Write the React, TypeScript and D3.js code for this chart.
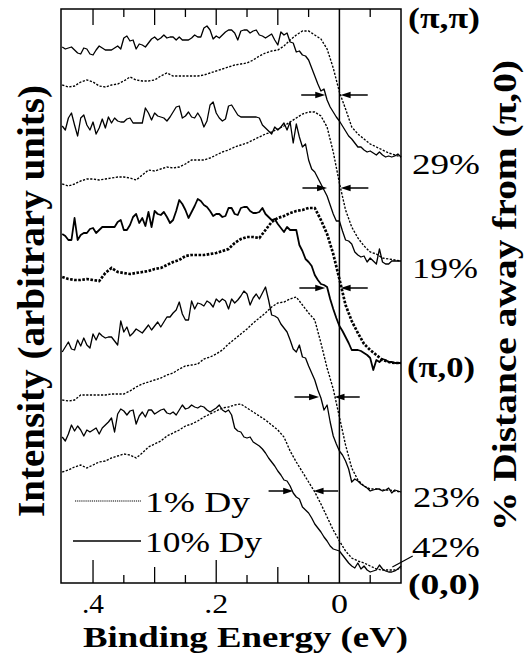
import React from 'react';
import * as d3 from 'd3';

const W = 525;
const H = 661;

// Binding-energy sampling (eV) of the spectra
const E_FINE = d3.range(111).map((j) => +(0.45 - 0.005 * j).toFixed(3));
const E_COARSE = d3.range(56).map((k) => +(0.45 - 0.01 * k).toFixed(2));

// 10% Dy spectra (solid), arbitrary units incl. vertical offsets
const S1 = [536,534,535,536,533,530,529,535,534,529, 528,533,537,535,533,533,533,535,537,534, 545,547,542,543,534,539,538,536,540,544, 546,543,545,548,545,546,546,543,546,543, 543,543,545,548,546,546,555,557,553,544, 547,545,548,551,553,553,550,543,552,553, 553,550,552,553,548,547,545,547,549,543, 538,551,548,550,541,540,531,532,528,527, 523,515,507,499,492,494,483,476,471,466, 462,457,452,447,444,440,436,436,433,431, 432,430,428,431,428,426,427,426,427,429, 426];
const S2 = [457,453,465,470,458,447,465,468,458,453, 461,449,455,464,455,466,460,465,462,461, 461,464,465,460,460,460,460,475,470,463, 470,467,466,465,462,466,471,476,477,465, 467,471,466,465,470,465,456,462,478,481, 470,465,462,464,477,478,473,468,466,466, 466,466,466,466,465,458,455,452,449,456, 453,456,460,453,461,440,459,446,436,439, 423,414,411,405,399,393,387,378,369,362, 362,352,343,342,339,331,328,326,327,321, 325,322,319,334,321,319,319,322,322,322, 322];
const S3 = [349,347,343,343,365,343,348,350,350,354, 355,350,353,356,356,356,356,356,361,363, 353,353,358,366,369,360,365,357,371,356, 372,369,368,371,366,360,363,372,383,379, 373,365,371,377,384,382,378,376,372,367, 369,369,366,367,375,375,369,368,375,376, 376,372,370,370,371,375,369,366,363,364, 359,355,351,356,353,353,353,338,332,324, 321,317,308,303,299,298,296,284,274,265, 257,252,246,240,233,233,233,232,230,228, 225,213,223,221,224,223,221,221,220,220, 220];
const S4 = [231,236,241,234,233,243,237,245,238,235, 249,243,250,247,245,246,246,242,238,262, 251,256,247,250,254,252,250,254,258,253, 257,261,256,261,266,266,270,273,281,269, 263,263,282,274,280,279,277,282,280,276, 284,281,284,282,274,284,280,283,287,292, 289,278,285,289,284,290,296,283,268,267, 265,259,255,251,243,234,231,238,226,225, 217,210,203,193,185,173,178,161,147,139, 132,128,122,114,101,104,102,99,97,95, 92,93,94,94,92,93,95,90,93,92, 91];
const S5 = [146,142,149,158,152,157,153,147,153,151, 153,155,149,155,158,161,165,151,169,174, 172,168,172,173,159,167,171,166,173,173, 169,171,173,174,170,169,171,168,173,178, 174,175,178,176,175,177,176,173,171,173, 175,178,173,171,173,168,155,152,151,146, 145,146,141,139,137,134,130,125,121,117, 112,108,103,102,97,90,86,84,76,73, 70,65,59,55,51,46,42,37,34,33, 32,28,24,20,17,15,20,14,17,13, 11,12,13,18,14,12,11,11,12,14, 17];

// 1% Dy spectra (dotted)
const D1 = [498,496,497,501,503,501,497,496,498,499, 502,506,503,502,502,503,507,510,507,507, 507,507,507,508,510,512,514,516,518,519, 520,523,527,530,532,533,537,543,548,552, 552,548,544,534,515,491,474,456,449,444, 439,436,433,430,428,426];
const D2 = [399,397,399,402,404,404,403,404,405,406, 406,405,403,408,413,412,414,416,415,416, 419,423,423,423,425,428,431,433,436,438, 440,443,446,449,451,454,457,461,465,469, 471,471,467,456,431,400,373,356,345,337, 331,329,325,324,323,322];
const D3 = [306,304,303,303,304,303,302,310,315,311, 310,309,310,311,312,314,315,318,321,323, 327,328,328,328,329,330,332,334,340,344, 346,346,345,353,361,365,367,370,372,373, 375,375,363,349,329,304,278,262,250,239, 233,228,223,221,220,220];
const D4 = [183,182,183,188,188,188,188,188,189,189, 189,192,196,199,201,203,205,208,210,214, 217,218,219,224,226,229,233,239,244,249, 254,260,265,270,276,280,281,284,286,278, 270,263,240,215,194,166,138,115,103,97, 94,94,93,93,92,91];
const D5 = [111,113,116,118,115,118,121,122,125,127, 129,128,125,130,136,139,142,147,150,153, 157,159,162,166,169,172,175,176,178,179, 175,171,167,163,158,153,146,132,121,111, 101,91,79,66,53,42,32,25,22,20, 17,14,13,13,13,15];

// leading-edge midpoint arrows
const ARROW_LEVEL = [488, 395, 295, 186, 92];
const ARROW_L_TAIL = [0.062, 0.06, 0.065, 0.073, 0.115];
const ARROW_L_TIP = [0.023, 0.02, 0.023, 0.033, 0.075];
const ARROW_R_TIP = [-0.002, -0.002, -0.002, 0.008, 0.042];
const ARROW_R_TAIL = [-0.046, -0.047, -0.046, -0.033, 0.002];

const X_TICKS_LABELED = [0.4, 0.2, 0];
const X_TICK_TEXT = ['.4', '.2', '0'];
const X_MINOR = [0.4, 0.35, 0.3, 0.25, 0.2, 0.15, 0.1, 0.05, -0.05];

const RIGHT_LABELS = ['(π,π)', '29%', '19%', '(π,0)', '23%', '42%', '(0,0)'];
const RIGHT_BOLD = [true, false, false, true, false, false, true];
const LEGEND = ['1% Dy', '10% Dy'];

const FONT = "'Liberation Serif', 'Times New Roman', Times, serif";

export default function App() {
  const x = d3.scaleLinear().domain([0.452, -0.1]).range([61, 401]);
  const y = d3.scaleLinear().domain([0, 574]).range([583, 9]);

  const lineFine = d3
    .line<number>()
    .x((_, i) => x(E_FINE[i]))
    .y((d) => y(d));
  const lineCoarse = d3
    .line<number>()
    .x((_, i) => x(E_COARSE[i]))
    .y((d) => y(d));

  const solids = [S1, S2, S3, S4, S5];
  const dotted = [D1, D2, D3, D4, D5];

  const labelPos = [
    { x: 408, y: 28, w: 72 },
    { x: 412, y: 174, w: 68 },
    { x: 412, y: 278, w: 66 },
    { x: 407, y: 377, w: 68 },
    { x: 413, y: 507, w: 67 },
    { x: 412, y: 557, w: 68 },
    { x: 408, y: 594, w: 72 },
  ];
  const tickW = [22, 24, 17];

  const arrowHead = (tx: number, ty: number, dir: number) => {
    const L = 10;
    const hw = 3.2;
    return `M${tx},${ty} L${tx - dir * L},${ty - hw} L${tx - dir * L},${ty + hw} Z`;
  };

  const ts = { fontFamily: FONT } as React.CSSProperties;

  return (
    <svg
      width={W}
      height={H}
      style={{ position: 'absolute', left: 0, top: 0, background: '#fff', fontFamily: FONT }}
    >
      <rect x={0} y={0} width={W} height={H} fill="#fff" />
      {/* frame */}
      <rect x={61} y={9} width={340} height={574} fill="none" stroke="#000" strokeWidth={1.5} />
      {/* Fermi level line */}
      <line x1={x(0)} x2={x(0)} y1={9} y2={583} stroke="#000" strokeWidth={1.5} />
      {/* ticks */}
      {X_MINOR.map((t, i) => {
        const r10 = Math.round(t * 100) % 10 === 0;
        const big = Math.abs(t - 0.4) < 1e-6 || Math.abs(t - 0.2) < 1e-6;
        const lenB = big ? 23 : r10 ? 16 : 8;
        const lenT = r10 ? 16 : 8;
        return (
          <g key={i}>
            <line x1={x(t)} x2={x(t)} y1={583} y2={583 - lenB} stroke="#000" strokeWidth={1.3} />
            <line x1={x(t)} x2={x(t)} y1={9} y2={9 + lenT} stroke="#000" strokeWidth={1.3} />
          </g>
        );
      })}
      {X_TICKS_LABELED.map((t, i) => (
        <text
          key={i}
          x={x(t) - tickW[i] / 2}
          y={613}
          fontSize={28}
          textLength={tickW[i]}
          lengthAdjust="spacingAndGlyphs"
          style={ts}
        >
          {X_TICK_TEXT[i]}
        </text>
      ))}
      {/* spectra */}
      {dotted.map((d, i) => (
        <path
          key={'d' + i}
          d={lineCoarse(d) || ''}
          fill="none"
          stroke="#000"
          strokeWidth={i === 2 ? 2.7 : 1.35}
          strokeDasharray={i === 2 ? '2.6,1.5' : '2.2,1.5'}
        />
      ))}
      {solids.map((s, i) => (
        <path
          key={'s' + i}
          d={lineFine(s) || ''}
          fill="none"
          stroke="#000"
          strokeWidth={i === 2 ? 1.8 : 1.3}
          strokeLinejoin="round"
        />
      ))}
      {/* arrows */}
      {ARROW_LEVEL.map((lv, i) => {
        const yy = y(lv);
        return (
          <g key={'a' + i}>
            <line x1={x(ARROW_L_TAIL[i])} x2={x(ARROW_L_TIP[i]) - 4} y1={yy} y2={yy} stroke="#000" strokeWidth={1.5} />
            <path d={arrowHead(x(ARROW_L_TIP[i]), yy, 1)} fill="#000" />
            <line x1={x(ARROW_R_TAIL[i])} x2={x(ARROW_R_TIP[i]) + 4} y1={yy} y2={yy} stroke="#000" strokeWidth={1.5} />
            <path d={arrowHead(x(ARROW_R_TIP[i]), yy, -1)} fill="#000" />
          </g>
        );
      })}
      {/* 42% pointer */}
      <line x1={x(-0.086)} y1={y(16)} x2={x(-0.119)} y2={y(27)} stroke="#000" strokeWidth={1.2} />
      {/* legend */}
      <line x1={75} x2={141} y1={501} y2={501} stroke="#000" strokeWidth={1.2} strokeDasharray="1.2,0.9" />
      <line x1={73} x2={141} y1={541} y2={541} stroke="#000" strokeWidth={1.3} />
      <text x={145} y={512} fontSize={29} textLength={105} lengthAdjust="spacingAndGlyphs" style={ts}>
        {LEGEND[0]}
      </text>
      <text x={145} y={552} fontSize={29} textLength={117} lengthAdjust="spacingAndGlyphs" style={ts}>
        {LEGEND[1]}
      </text>
      {/* right labels */}
      {RIGHT_LABELS.map((t, i) => (
        <text
          key={'r' + i}
          x={labelPos[i].x}
          y={labelPos[i].y}
          fontSize={29}
          fontWeight={RIGHT_BOLD[i] ? 'bold' : 'normal'}
          textLength={labelPos[i].w}
          lengthAdjust="spacingAndGlyphs"
          style={ts}
        >
          {t}
        </text>
      ))}
      {/* axis titles */}
      <text x={83} y={647} fontSize={30} fontWeight="bold" textLength={325} lengthAdjust="spacingAndGlyphs" style={ts}>
        Binding Energy (eV)
      </text>
      <text
        transform="translate(44,517) rotate(-90)"
        fontSize={38}
        fontWeight="bold"
        textLength={432}
        lengthAdjust="spacingAndGlyphs"
        style={ts}
      >
        Intensity (arbitrary units)
      </text>
      <text
        transform="translate(516,531) rotate(-90)"
        fontSize={34}
        fontWeight="bold"
        textLength={471}
        lengthAdjust="spacingAndGlyphs"
        style={ts}
      >
        % Distance away from (π,0)
      </text>
    </svg>
  );
}
